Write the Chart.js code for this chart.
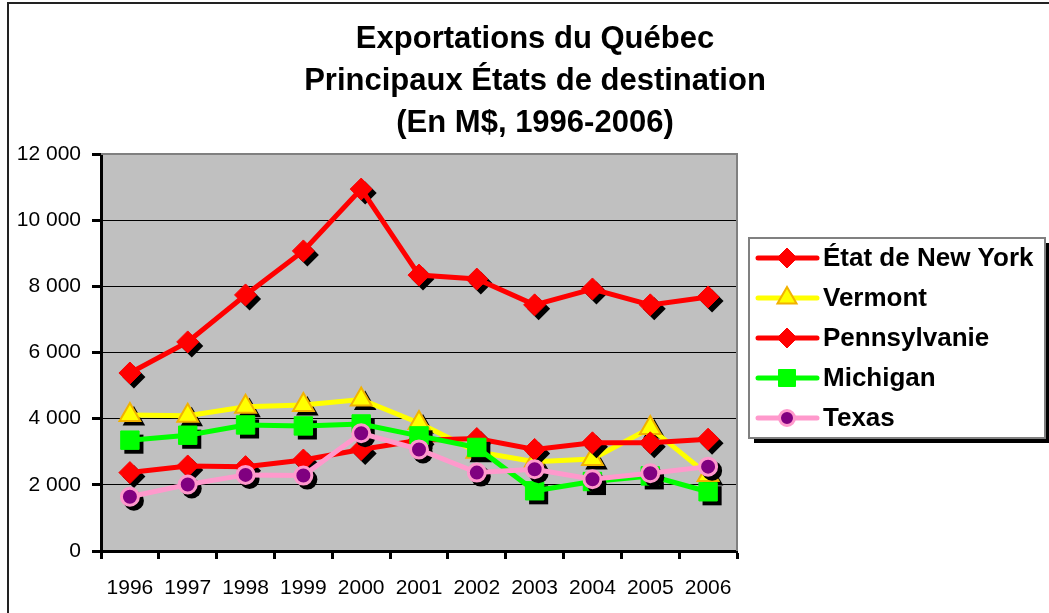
<!DOCTYPE html>
<html><head><meta charset="utf-8">
<script src="https://cdn.jsdelivr.net/npm/chart.js@4.4.1/dist/chart.umd.min.js"></script>
<style>
html,body{margin:0;padding:0;background:#fff;overflow:hidden;}
#wrap{position:relative;width:1049px;height:613px;}
#frame{position:absolute;left:7px;top:2px;width:1100px;height:700px;border:2px solid #222;box-sizing:border-box;pointer-events:none;}
canvas{position:absolute;left:0;top:0;}
</style></head><body>
<div id="wrap"><canvas id="c" width="1049" height="613"></canvas><div id="frame"></div></div>
<script>
// ---- Data ----
const years = ['1996','1997','1998','1999','2000','2001','2002','2003','2004','2005','2006'];
const newYork      = [5380, 6320, 7740, 9070, 10940, 8340, 8220, 7440, 7920, 7440, 7680];
const vermont      = [4110, 4090, 4360, 4410, 4580, 3870, 3000, 2700, 2780, 3720, 2300];
const pennsylvanie = [2370, 2570, 2550, 2750, 3070, 3350, 3400, 3070, 3270, 3270, 3380];
const michigan     = [3350, 3500, 3810, 3780, 3840, 3480, 3130, 1820, 2100, 2270, 1790];
const texas        = [1640, 2010, 2300, 2280, 3560, 3070, 2370, 2470, 2170, 2350, 2550];
const seriesNames  = ['État de New York', 'Vermont', 'Pennsylvanie', 'Michigan', 'Texas'];
const titleLines   = ['Exportations du Québec', 'Principaux États de destination', '(En M$, 1996-2006)'];
const yTickStep = 2000, yMax = 12000;

function fmt(v){ return String(v).replace(/\B(?=(\d{3})+(?!\d))/g, ' '); }

function shapePath(ctx, style, x, y, r) {
  ctx.beginPath();
  if (style === 'circle') ctx.arc(x, y, r, 0, Math.PI*2);
  else if (style === 'rectRot') { ctx.moveTo(x-r,y); ctx.lineTo(x,y-r); ctx.lineTo(x+r,y); ctx.lineTo(x,y+r); ctx.closePath(); }
  else if (style === 'rect') { const s = r*Math.SQRT1_2; ctx.rect(x-s,y-s,2*s,2*s); }
  else if (style === 'triangle') {
    const a = 2*Math.PI/3;
    ctx.moveTo(x, y-r);
    ctx.lineTo(x + r*Math.sin(a), y - r*Math.cos(a));
    ctx.lineTo(x + r*Math.sin(2*a), y - r*Math.cos(2*a));
    ctx.closePath();
  }
}

const plotBg = {
  id: 'plotBg',
  beforeDraw(chart) {
    const {ctx, chartArea: a} = chart;
    ctx.save();
    ctx.fillStyle = '#C0C0C0';
    ctx.fillRect(a.left, a.top, a.right - a.left, a.bottom - a.top);
    ctx.restore();
  },
  beforeDatasetsDraw(chart) {
    const {ctx, chartArea: a} = chart;
    ctx.save();
    ctx.strokeStyle = '#808080'; ctx.lineWidth = 2;
    ctx.beginPath();
    ctx.moveTo(a.left, a.top); ctx.lineTo(a.right, a.top); ctx.lineTo(a.right, a.bottom);
    ctx.stroke();
    ctx.restore();
  }
};

const markerShadow = {
  id: 'markerShadow',
  beforeDatasetDraw(chart, args) {
    const ds = chart.data.datasets[args.index];
    const ctx = chart.ctx;
    ctx.save();
    ctx.fillStyle = '#000';
    args.meta.data.forEach(pt => {
      shapePath(ctx, ds.pointStyle, pt.x + 4, pt.y + 4, ds.pointRadius + ds.pointBorderWidth/2);
      ctx.fill();
    });
    ctx.restore();
  }
};

const titleAndLegend = {
  id: 'titleAndLegend',
  afterDraw(chart) {
    const ctx = chart.ctx;
    ctx.save();
    // Title
    ctx.fillStyle = '#000';
    ctx.font = 'bold 31px "Liberation Sans", Arial, sans-serif';
    ctx.textAlign = 'center'; ctx.textBaseline = 'middle';
    titleLines.forEach((t, i) => ctx.fillText(t, 535, 39 + i*42));
    // Legend box
    const bx = 749, by = 238, bw = 296, bh = 200;
    ctx.fillStyle = '#000';
    ctx.fillRect(bx + 5, by + 5, bw, bh);
    ctx.fillStyle = '#fff';
    ctx.fillRect(bx, by, bw, bh);
    ctx.strokeStyle = '#808080'; ctx.lineWidth = 2;
    ctx.strokeRect(bx, by, bw, bh);
    chart.data.datasets.forEach((ds, i) => {
      const y = 258 + i*40;
      ctx.strokeStyle = ds.borderColor; ctx.lineWidth = 5; ctx.lineCap = 'round';
      ctx.beginPath(); ctx.moveTo(758, y); ctx.lineTo(817, y); ctx.stroke();
      ctx.lineCap = 'butt';
      const r = ds.legendRadius;
      shapePath(ctx, ds.pointStyle, 787, y, r);
      ctx.fillStyle = ds.pointBackgroundColor; ctx.fill();
      ctx.strokeStyle = ds.pointBorderColor; ctx.lineWidth = ds.pointBorderWidth; ctx.stroke();
      ctx.fillStyle = '#000';
      ctx.font = 'bold 26px "Liberation Sans", Arial, sans-serif';
      ctx.textAlign = 'left'; ctx.textBaseline = 'middle';
      ctx.fillText(seriesNames[i], 823, y + 1);
    });
    ctx.restore();
  }
};

function mk(label, data, color, style, radius, fill, border, bw, order, legendRadius) {
  return {
    label, data, borderColor: color, borderWidth: 5, tension: 0,
    pointStyle: style, pointRadius: radius, pointHoverRadius: radius,
    pointBackgroundColor: fill, pointBorderColor: border, pointBorderWidth: bw,
    order, legendRadius, fill: false
  };
}

const datasets = [
  mk(seriesNames[0], newYork, '#FF0000', 'rectRot', 11, '#FF0000', '#FF0000', 1, 5, 10),
  mk(seriesNames[1], vermont, '#FFFF00', 'triangle', 12, '#FFFF00', '#F2B200', 2, 4, 11),
  mk(seriesNames[2], pennsylvanie, '#FF0000', 'rectRot', 11, '#FF0000', '#FF0000', 1, 3, 10),
  mk(seriesNames[3], michigan, '#00FF00', 'rect', 13, '#00FF00', '#00FF00', 1, 2, 12),
  mk(seriesNames[4], texas, '#FF99CC', 'circle', 8.5, '#800080', '#FF99CC', 3, 1, 7.5)
];

new Chart(document.getElementById('c'), {
  type: 'line',
  data: { labels: years, datasets },
  options: {
    responsive: false, animation: false,
    layout: { padding: { left: 0, right: 312, top: 154, bottom: 0 } },
    plugins: { legend: { display: false }, title: { display: false }, tooltip: { enabled: false } },
    scales: {
      x: {
        offset: true,
        afterFit(s) { s.height = 62; },
        grid: { offset: true, drawOnChartArea: false, drawTicks: true, tickLength: 8, tickWidth: 3, tickColor: '#000' },
        border: { display: true, color: '#000', width: 3 },
        ticks: { color: '#000', padding: 17, maxRotation: 0, autoSkip: false,
          font: { family: '"Liberation Sans", Arial, sans-serif', size: 21 } }
      },
      y: {
        min: 0, max: yMax,
        afterFit(s) { s.width = 101; },
        grid: { color: '#000', lineWidth: 1, drawTicks: true, tickLength: 9, tickWidth: 3, tickColor: '#000' },
        border: { display: true, color: '#000', width: 3 },
        ticks: { stepSize: yTickStep, color: '#000', padding: 11, callback: v => fmt(v),
          font: { family: '"Liberation Sans", Arial, sans-serif', size: 21 } }
      }
    }
  },
  plugins: [plotBg, markerShadow, titleAndLegend]
});
</script>
</body></html>
